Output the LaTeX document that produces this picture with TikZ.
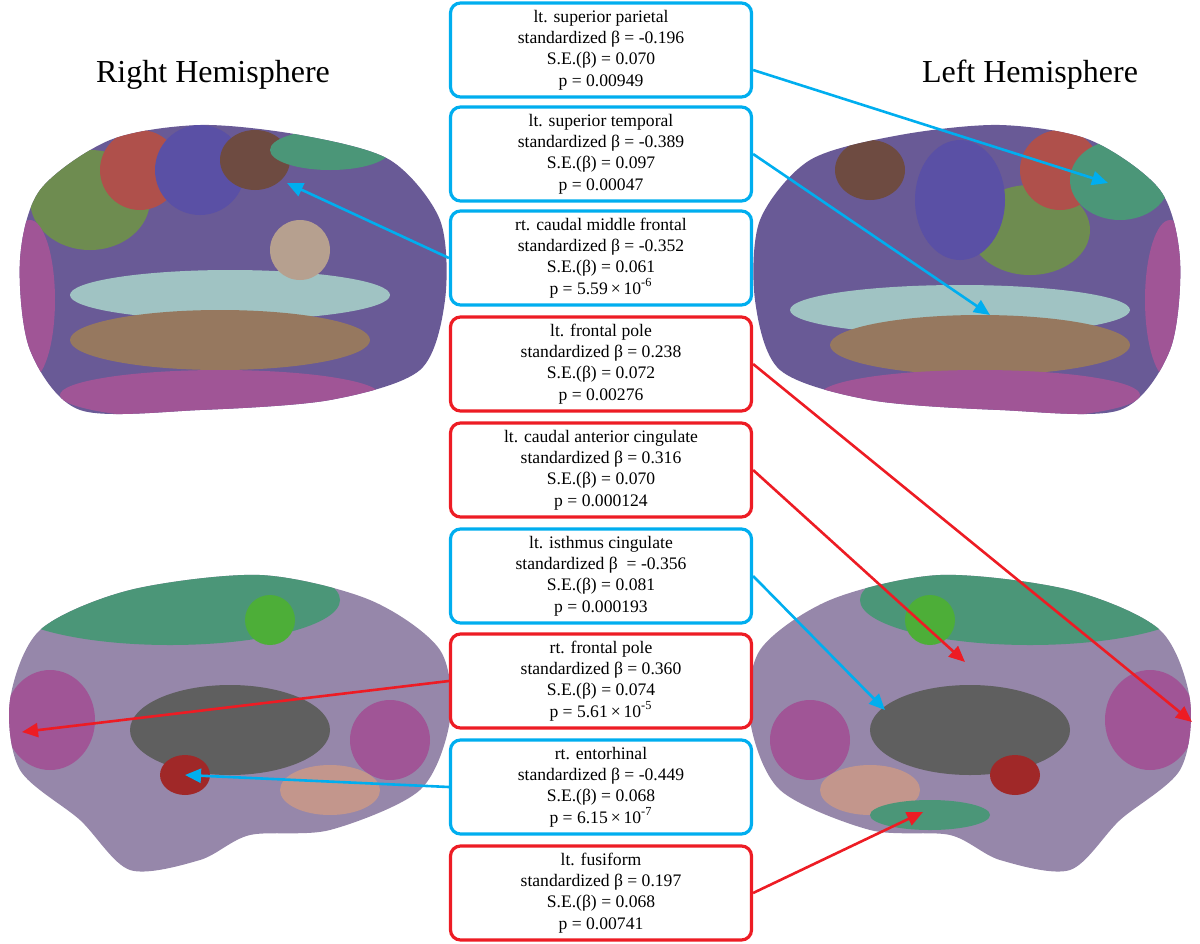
\documentclass[tikz,border=0pt]{standalone}
\usepackage{fontspec}
\setmainfont{Liberation Serif}
\usetikzlibrary{arrows.meta}
\definecolor{cb}{RGB}{0,174,239}
\definecolor{cr}{RGB}{237,28,36}
\definecolor{bgr}{RGB}{110,140,80}
\definecolor{brd}{RGB}{175,80,75}
\definecolor{bbl}{RGB}{90,80,165}
\definecolor{bbr}{RGB}{110,75,65}
\definecolor{bcy}{RGB}{160,195,195}
\definecolor{btn}{RGB}{150,120,95}
\definecolor{bmg}{RGB}{160,85,150}
\definecolor{bpu}{RGB}{105,90,150}
\definecolor{blp}{RGB}{150,135,170}
\definecolor{btl}{RGB}{75,150,120}
\definecolor{bdg}{RGB}{95,95,95}
\definecolor{bpk}{RGB}{195,150,140}
\definecolor{bdr}{RGB}{160,40,40}
\begin{document}
\begin{tikzpicture}[x=0.5pt,y=-0.5pt,
  box/.style={draw,line width=1.6pt,rounded corners=5pt,minimum width=150.5pt,minimum height=47pt,align=center,font=\fontsize{8.8}{10.6}\selectfont,fill=white,inner sep=0pt},
  bb/.style={box,draw=cb}, rb/.style={box,draw=cr},
  ab/.style={cb,line width=1.3pt,-{Triangle[length=8pt,width=7pt]}},
  ar/.style={cr,line width=1.3pt,-{Triangle[length=8pt,width=7pt]}},
  ttl/.style={font=\fontsize{16}{18}\selectfont}]
\useasboundingbox (0,0) rectangle (1200,943);
\node[ttl] (tr) at (213,75) {Right Hemisphere};
\node[ttl] (tl) at (1030,75) {Left Hemisphere};
% brains: lateral right
\begin{scope}
\clip plot[smooth cycle] coordinates {(20,260)(40,190)(110,140)(200,125)(300,135)(390,160)(440,220)(445,300)(420,370)(330,400)(200,410)(80,410)(30,350)};
\fill[bpu] (0,100) rectangle (460,430);
\fill[bgr] (90,200) ellipse (60 and 50);
\fill[brd] (140,170) ellipse (40 and 40);
\fill[bbl] (200,170) ellipse (45 and 45);
\fill[bbr] (255,160) ellipse (35 and 30);
\fill[bcy] (230,295) ellipse (160 and 25);
\fill[btn] (220,340) ellipse (150 and 30);
\fill[bmg] (220,395) ellipse (160 and 25);
\fill[btn!70!white] (300,250) ellipse (30 and 30);
\fill[btl] (330,150) ellipse (60 and 20);
\fill[bmg] (30,300) ellipse (25 and 80);
\end{scope}
% lateral left
\begin{scope}
\clip plot[smooth cycle] coordinates {(1180,260)(1160,190)(1090,140)(1000,125)(900,135)(810,160)(760,220)(755,300)(780,370)(870,400)(1000,410)(1120,410)(1170,350)};
\fill[bpu] (740,100) rectangle (1200,430);
\fill[bgr] (1030,230) ellipse (60 and 45);
\fill[brd] (1060,170) ellipse (40 and 40);
\fill[bbl] (960,200) ellipse (45 and 60);
\fill[bbr] (870,170) ellipse (35 and 30);
\fill[btl] (1120,180) ellipse (50 and 40);
\fill[bcy] (960,310) ellipse (170 and 25);
\fill[btn] (980,345) ellipse (150 and 30);
\fill[bmg] (980,395) ellipse (160 and 25);
\fill[bmg] (1170,300) ellipse (25 and 80);
\end{scope}
% medial right
\begin{scope}
\clip plot[smooth cycle] coordinates {(10,700)(40,630)(130,590)(260,575)(370,600)(440,650)(450,720)(420,790)(330,830)(250,835)(200,860)(130,870)(80,820)(20,770)};
\fill[blp] (0,560) rectangle (460,880);
\fill[btl] (170,600) ellipse (170 and 45);
\fill[bgr!70!green] (270,620) ellipse (25 and 25);
\fill[bdg] (230,730) ellipse (100 and 45);
\fill[bmg] (50,720) ellipse (45 and 50);
\fill[bmg] (390,740) ellipse (40 and 40);
\fill[bdr] (185,775) ellipse (25 and 20);
\fill[bpk] (330,790) ellipse (50 and 25);
\end{scope}
% medial left
\begin{scope}
\clip plot[smooth cycle] coordinates {(1190,700)(1160,630)(1070,590)(940,575)(830,600)(760,650)(750,720)(780,790)(870,830)(950,835)(1000,860)(1070,870)(1120,820)(1180,770)};
\fill[blp] (740,560) rectangle (1200,880);
\fill[btl] (1030,600) ellipse (170 and 45);
\fill[bgr!70!green] (930,620) ellipse (25 and 25);
\fill[bdg] (970,730) ellipse (100 and 45);
\fill[bmg] (1150,720) ellipse (45 and 50);
\fill[bmg] (810,740) ellipse (40 and 40);
\fill[bdr] (1015,775) ellipse (25 and 20);
\fill[bpk] (870,790) ellipse (50 and 25);
\fill[btl] (930,815) ellipse (60 and 15);
\end{scope}
% boxes
\node[bb] (b1) at (601,50) {lt. superior parietal\\standardized β = -0.196\\S.E.(β) = 0.070\\p = 0.00949};
\node[bb] (b2) at (601,154) {lt. superior temporal\\standardized β = -0.389\\S.E.(β) = 0.097\\p = 0.00047};
\node[bb] (b3) at (601,258) {rt. caudal middle frontal\\standardized β = -0.352\\S.E.(β) = 0.061\\p = 5.59\,×\,10\textsuperscript{-6}};
\node[rb] (b4) at (601,364) {lt. frontal pole\\standardized β = 0.238\\S.E.(β) = 0.072\\p = 0.00276};
\node[rb] (b5) at (601,470) {lt. caudal anterior cingulate\\standardized β = 0.316\\S.E.(β) = 0.070\\p = 0.000124};
\node[bb] (b6) at (601,576) {lt. isthmus cingulate\\standardized β \ = -0.356\\S.E.(β) = 0.081\\p = 0.000193};
\node[rb] (b7) at (601,681) {rt. frontal pole\\standardized β = 0.360\\S.E.(β) = 0.074\\p = 5.61\,×\,10\textsuperscript{-5}};
\node[bb] (b8) at (601,787) {rt. entorhinal\\standardized β = -0.449\\S.E.(β) = 0.068\\p = 6.15\,×\,10\textsuperscript{-7}};
\node[rb] (b9) at (601,893) {lt. fusiform\\standardized β = 0.197\\S.E.(β) = 0.068\\p = 0.00741};
\coordinate (t1) at (1108,183); \coordinate (t2) at (990,315);
\coordinate (t3) at (287,183); \coordinate (t4) at (1192,722);
\coordinate (t5) at (965,662); \coordinate (t6) at (885,710);
\coordinate (t7) at (22,732); \coordinate (t8) at (185,775);
\coordinate (t9) at (923,812);
\draw[ab] (b1.east|-0,70) -- (t1);
\draw[ab] (b2.east) -- (t2);
\draw[ab] (b3.west) -- (t3);
\draw[ar] (b4.east) -- (t4);
\draw[ar] (b5.east) -- (t5);
\draw[ab] (b6.east) -- (t6);
\draw[ar] (b7.west) -- (t7);
\draw[ab] (b8.west) -- (t8);
\draw[ar] (b9.east) -- (t9);
\end{tikzpicture}
\end{document}
